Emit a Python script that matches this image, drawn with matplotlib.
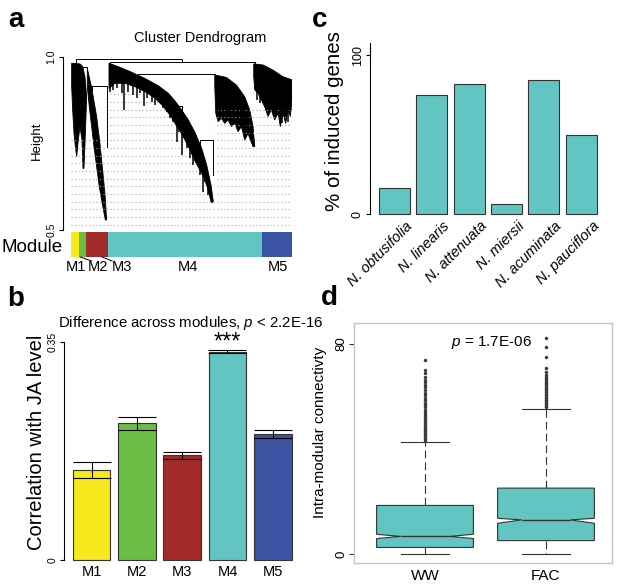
import matplotlib
matplotlib.use("Agg")
import matplotlib.pyplot as plt
from matplotlib.patches import Polygon
import numpy as np

W, H = 617, 584
plt.rcParams['font.family'] = ['Liberation Sans', 'DejaVu Sans']
plt.rcParams['mathtext.fontset'] = 'custom'
plt.rcParams['mathtext.rm'] = 'Liberation Sans'
plt.rcParams['mathtext.it'] = 'Liberation Sans:italic'

TURQ = '#62C5C1'
EDGE = '#333333'

# ---- panel a: dendrogram outline (leaf position 0-100, height) ----
fan_a_x = [0.30, 4.07, 5.27, 6.33, 7.08, 6.78, 6.33, 5.87, 5.42, 4.97, 4.07, 3.31, 2.56, 1.96, 1.36, 0.75, 0.30]
fan_a_h = [0.982, 0.980, 0.972, 0.943, 0.885, 0.828, 0.750, 0.678, 0.678, 0.760, 0.799, 0.760, 0.712, 0.741, 0.779, 0.847, 0.914]
fan_b_x = [7.38, 9.34, 11.60, 13.10, 14.31, 15.36, 16.11, 15.51, 13.86, 12.80, 11.60, 10.39, 9.34, 8.28, 7.38]
fan_b_h = [0.967, 0.912, 0.828, 0.750, 0.673, 0.606, 0.529, 0.529, 0.587, 0.625, 0.683, 0.741, 0.799, 0.856, 0.914]
fan_c_x = [17.19, 21.42, 27.45, 33.48, 39.52, 44.04, 47.06, 50.08, 53.09, 56.11, 59.13, 61.39, 63.35, 64.40,
           63.35, 61.84, 60.33, 58.37, 56.11, 53.85, 51.58, 49.32, 47.06, 44.80, 41.78, 38.01, 33.48,
           28.96, 24.43, 19.91, 17.19]
fan_c_h = [0.982, 0.972, 0.956, 0.938, 0.917, 0.895, 0.873, 0.847, 0.818, 0.782, 0.736, 0.688, 0.630, 0.582,
           0.582, 0.620, 0.649, 0.673, 0.699, 0.731, 0.760, 0.786, 0.808, 0.832, 0.857, 0.881, 0.900,
           0.914, 0.924, 0.924, 0.909]
fan_d_x = [65.06, 70.33, 74.85, 78.61, 80.87, 82.38, 83.13, 82.38, 81.17, 80.12, 78.61, 77.11, 75.60,
           74.10, 72.59, 71.08, 69.58, 68.07, 66.57, 65.51, 65.06]
fan_d_h = [0.948, 0.941, 0.919, 0.885, 0.847, 0.799, 0.741, 0.741, 0.760, 0.779, 0.760, 0.799, 0.784,
           0.808, 0.799, 0.818, 0.808, 0.823, 0.813, 0.837, 0.914]
fan_e_x = [82.68, 86.90, 91.42, 95.93, 100.0, 100.0, 99.25, 98.19, 97.14, 95.93, 94.73, 93.67, 92.17,
           90.66, 89.16, 87.65, 86.14, 84.64, 83.13, 82.68]
fan_e_h = [0.980, 0.977, 0.962, 0.943, 0.934, 0.876, 0.828, 0.847, 0.808, 0.837, 0.799, 0.837, 0.818,
           0.847, 0.828, 0.856, 0.876, 0.895, 0.905, 0.943]
fans = [(fan_a_x, fan_a_h), (fan_b_x, fan_b_h), (fan_c_x, fan_c_h), (fan_d_x, fan_d_h), (fan_e_x, fan_e_h)]

# hanging leaves: position, top height, bottom height
leaf_x = [17.65, 19.16, 20.66, 22.93, 24.13, 25.94, 28.21, 29.71, 31.22, 33.18, 34.24, 36.50, 38.01,
          39.52, 41.78, 43.29, 44.80, 46.31, 47.81, 48.87, 50.08, 52.34, 53.85, 55.35, 56.41, 58.37,
          59.88, 60.63, 62.14, 63.65,
          65.9, 67.4, 69.7, 71.2, 73.4, 75.7, 78.0, 79.5, 81.4, 82.9,
          84.0, 85.5, 86.6, 88.5, 90.8, 92.3, 93.8, 95.3, 96.8, 98.3, 99.8]
leaf_top = [0.92, 0.93, 0.934, 0.934, 0.934, 0.93, 0.925, 0.922, 0.915, 0.91, 0.907, 0.898, 0.89,
            0.88, 0.866, 0.855, 0.842, 0.83, 0.81, 0.80, 0.79, 0.76, 0.74, 0.72, 0.71, 0.683,
            0.665, 0.655, 0.62, 0.59,
            0.90, 0.90, 0.90, 0.89, 0.88, 0.87, 0.85, 0.83, 0.80, 0.76,
            0.92, 0.92, 0.92, 0.91, 0.90, 0.89, 0.88, 0.87, 0.86, 0.85, 0.85]
leaf_bottom = [0.900, 0.905, 0.909, 0.895, 0.847, 0.900, 0.890, 0.881, 0.895, 0.857, 0.881, 0.871, 0.861,
               0.876, 0.852, 0.842, 0.823, 0.813, 0.755, 0.784, 0.717, 0.736, 0.707, 0.688, 0.717, 0.659,
               0.611, 0.640, 0.601, 0.577,
               0.842, 0.832, 0.852, 0.827, 0.837, 0.818, 0.799, 0.784, 0.760, 0.741,
               0.876, 0.866, 0.885, 0.861, 0.876, 0.827, 0.852, 0.808, 0.837, 0.813, 0.847]

# merges: left x, right x, merge height, left end height, right end height
link_xl = [2.26, 17.62, 5.27, 9.50, 30.50, 58.40, 47.06]
link_xr = [50.45, 83.13, 7.38, 16.30, 65.06, 64.31, 50.08]
link_h = [0.994, 0.985, 0.972, 0.915, 0.950, 0.760, 0.859]
link_hl = [0.982, 0.982, 0.972, 0.905, 0.940, 0.740, 0.850]
link_hr = [0.985, 0.980, 0.967, 0.740, 0.948, 0.659, 0.840]

guide_top_x = [0, 0, 16.5, 16.5, 30, 38, 44.8, 50, 56, 60, 63.5, 65, 65, 100, 100]
guide_top_h = [0.5, 0.77, 0.77, 0.90, 0.90, 0.88, 0.832, 0.78, 0.70, 0.65, 0.58, 0.58, 0.85, 0.85, 0.5]

module_names = ['M1', 'M2', 'M3', 'M4', 'M5']
module_start = [0, 3.6, 6.8, 16.6, 86.3]
module_end = [3.6, 6.8, 16.6, 86.3, 100]
module_colors = ['#F6EA1C', '#6BBD45', '#A32A2A', TURQ, '#3A53A3']
module_label_x = [2.3, 12.2, 23.1, 53.0, 93.7]

# ---- panel b ----
corr_mean = [0.144, 0.219, 0.168, 0.334, 0.202]
corr_err = [0.0125, 0.0107, 0.0053, 0.002, 0.0067]

# ---- panel c ----
species = ['N. obtusifolia', 'N. linearis', 'N. attenuata', 'N. miersii', 'N. acuminata', 'N. pauciflora']
induced_pct = [16.3, 74.7, 82.0, 6.7, 84.1, 50.0]

# ---- panel d ----
box_labels = ['WW', 'FAC']
box_med = [6.7, 13.0]
box_q1 = [2.5, 5.1]
box_q3 = [18.5, 25.1]
box_whislo = [0.0, 0.0]
box_whishi = [42.5, 55.4]
box_cilo = [5.9, 11.7]
box_cihi = [7.5, 13.6]
ww_fliers = [43.2, 43.8, 44.3, 44.9, 45.6, 46.1, 46.8, 47.4, 48.0, 48.5, 49.3, 49.9, 50.6, 51.2, 51.9,
             52.7, 53.4, 54.2, 55.0, 55.9, 56.8, 57.6, 58.7, 59.6, 60.4, 61.5, 62.6, 63.7, 64.5, 65.6,
             66.4, 67.3, 68.8, 70.1, 73.9]
fac_fliers = [56.0, 56.5, 57.1, 57.6, 58.2, 58.7, 59.3, 59.9, 60.4, 61.0, 61.6, 62.1, 62.8, 63.4, 64.0,
              64.7, 65.3, 66.0, 66.8, 67.5, 68.2, 69.2, 70.7, 75.2, 79.0, 82.4]


def px_axes(x0, y0, x1, y1):
    return fig.add_axes([x0 / W, 1 - y1 / H, (x1 - x0) / W, (y1 - y0) / H])


def ftext(px, py, s, **kw):
    fig.text(px / W, 1 - py / H, s, **kw)


fig = plt.figure(figsize=(W / 100, H / 100), dpi=100)

# ================= a =================
ax = px_axes(71, 50, 292, 231)
ax.set_xlim(0, 100)
ax.set_ylim(1 - (231 - 57) / 346, 1 - (50 - 57) / 346)
clip = Polygon(np.column_stack([guide_top_x, guide_top_h]), closed=True, transform=ax.transData,
               facecolor='none', edgecolor='none')
ax.add_patch(clip)
guides = ax.hlines(np.arange(0.515, 0.9, 0.0222), 0, 100, colors='#a8a8a8', lw=0.8,
                   linestyles=[(0, (1.0, 2.2))])
guides.set_clip_path(clip)
for fx_, fh_ in fans:
    ax.add_patch(Polygon(np.column_stack([fx_, fh_]), closed=True, facecolor='black',
                         edgecolor='black', lw=0.6))
ax.vlines(leaf_x, leaf_bottom, leaf_top, colors='black', lw=1.1)
for xl, xr, hm, hl, hr in zip(link_xl, link_xr, link_h, link_hl, link_hr):
    ax.plot([xl, xl, xr, xr], [hl, hm, hm, hr], color='black', lw=0.7)
for s in ['top', 'right', 'bottom']:
    ax.spines[s].set_visible(False)
ax.spines['left'].set_position(('outward', 5.8))
ax.spines['left'].set_bounds(0.5, 1.0)
ax.spines['left'].set_linewidth(0.8)
ax.set_xticks([])
ax.set_yticks([0.5, 1.0], ['0.5', '1.0'])
ax.tick_params(axis='y', labelsize=7.5, length=3, width=0.8, pad=1.5, labelrotation=90)
for t in ax.get_yticklabels():
    t.set_va('center')
ftext(200, 38, 'Cluster Dendrogram', fontsize=10.5, ha='center', va='center')
ftext(37, 141, 'Height', fontsize=9.5, rotation=90, ha='center', va='center')

axm = px_axes(71, 232, 292, 257)
axm.set_xlim(0, 100)
axm.set_ylim(0, 1)
axm.barh(0.5, np.array(module_end) - np.array(module_start), left=module_start, height=1,
         color=module_colors, edgecolor='none')
axm.axis('off')
for name, lx in zip(module_names, module_label_x):
    axm.text(lx, -0.42, name, fontsize=10.5, ha='center', va='center')
axm.plot([4.1, 9.4], [0.0, -0.16], color='black', lw=0.7, clip_on=False)
axm.plot([14.0, 18.6], [0.0, -0.16], color='black', lw=0.7, clip_on=False)
ftext(32, 247, 'Module', fontsize=13.5, ha='center', va='center')

# ================= b =================
axb = px_axes(64, 330, 300, 562)
pos_b = np.arange(len(corr_mean)) * 1.2 + 0.7
axb.bar(pos_b, corr_mean, width=1, color=module_colors, edgecolor=EDGE, lw=0.8,
        yerr=corr_err, capsize=14, error_kw=dict(elinewidth=0.8, capthick=0.8, ecolor='black'))
axb.set_xlim(0.2 - (72.7 - 64) / 37.75, 0.2 + (300 - 72.7) / 37.75)
axb.set_ylim(-2 / 623.7, 0.35 + 11.7 / 623.7)
for s in ['top', 'right', 'bottom']:
    axb.spines[s].set_visible(False)
axb.spines['left'].set_bounds(0, 0.35)
axb.spines['left'].set_linewidth(0.8)
axb.set_yticks([0, 0.35], ['0', '0.35'])
axb.tick_params(axis='y', labelsize=7.5, length=3, width=0.8, pad=1.5, labelrotation=90)
for t in axb.get_yticklabels():
    t.set_va('center')
axb.set_xticks(pos_b, module_names)
axb.tick_params(axis='x', length=0, labelsize=10.5, pad=2)
axb.text(pos_b[3], 0.339, '***', fontsize=17, ha='center', va='baseline')
ftext(58, 323, r'Difference across modules, $\mathit{p}$ < 2.2E-16', fontsize=10.8,
      ha='left', va='center')
ftext(36.5, 442, 'Correlation with JA level', fontsize=14.5, rotation=90, ha='center', va='center')

# ================= c =================
axc = px_axes(370, 40, 605, 216)
pos_c = np.arange(len(induced_pct)) * 1.2 + 0.7
axc.bar(pos_c, induced_pct, width=1, color=TURQ, edgecolor=EDGE, lw=0.8)
axc.set_xlim(0.2 - 9 / 31.1, 0.2 + (605 - 379) / 31.1)
axc.set_ylim(-1.7 / 1.593, 174.3 / 1.593)
for s in ['top', 'right', 'bottom']:
    axc.spines[s].set_visible(False)
axc.spines['left'].set_bounds(0, 107.7)
axc.spines['left'].set_linewidth(0.8)
axc.set_yticks([0, 100], ['0', '100'])
axc.tick_params(axis='y', labelsize=9, length=3, width=0.8, pad=1.5, labelrotation=90)
for t in axc.get_yticklabels():
    t.set_va('center')
axc.set_xticks(pos_c + 0.35, species, rotation=45, ha='right', rotation_mode='anchor',
               fontstyle='italic')
axc.tick_params(axis='x', length=0, labelsize=10.5, pad=2)
ftext(335, 121, '% of induced genes', fontsize=14.8, rotation=90, ha='center', va='center')

# ================= d =================
axd = px_axes(354, 323, 612, 563)
stats = []
for i in range(len(box_labels)):
    stats.append(dict(label=box_labels[i], med=box_med[i], q1=box_q1[i], q3=box_q3[i],
                      whislo=box_whislo[i], whishi=box_whishi[i], cilo=box_cilo[i],
                      cihi=box_cihi[i], fliers=[ww_fliers, fac_fliers][i]))
res = axd.bxp(stats, positions=[1, 2], widths=0.8, shownotches=True, patch_artist=True,
              capwidths=0.5,
              boxprops=dict(facecolor=TURQ, edgecolor=EDGE, lw=0.8),
              whiskerprops=dict(color=EDGE, lw=0.8, ls=(0, (7, 3.6))),
              capprops=dict(color=EDGE, lw=0.8),
              medianprops=dict(color=EDGE, lw=1.0),
              flierprops=dict(marker='o', markersize=2.2, markerfacecolor='#3a3a3a',
                              markeredgecolor='#3a3a3a', markeredgewidth=0.3))
for i, cap in enumerate(res['caps']):
    p = [1, 2][i // 2]
    cap.set_xdata([p - 0.2, p + 0.2])
axd.set_xlim(1 - 71 / 121, 2 + 66 / 121)
axd.set_ylim(-9 / 2.625, 80 + 21 / 2.625)
for s in axd.spines.values():
    s.set_color('#c4c4c4')
    s.set_linewidth(1.0)
axd.set_yticks([0, 80], ['0', '80'])
axd.tick_params(axis='y', labelsize=9.5, length=3.5, width=0.8, pad=1.5, labelrotation=90,
                color=EDGE)
for t in axd.get_yticklabels():
    t.set_va('center')
axd.tick_params(axis='x', length=0, labelsize=11, pad=4)
axd.text(1.55, 80.4, r'$\mathit{p}$ = 1.7E-06', fontsize=11, ha='center', va='center')
ftext(320, 432, 'Intra-modular connectivty', fontsize=11, rotation=90, ha='center', va='center')

# panel letters
for letter, lx, ly in [('a', 16, 27), ('b', 16, 306), ('c', 320, 27), ('d', 329, 305)]:
    ftext(lx, ly, letter, fontsize=20, fontweight='bold', ha='center', va='baseline')

fig.savefig('out.png', dpi=100)
